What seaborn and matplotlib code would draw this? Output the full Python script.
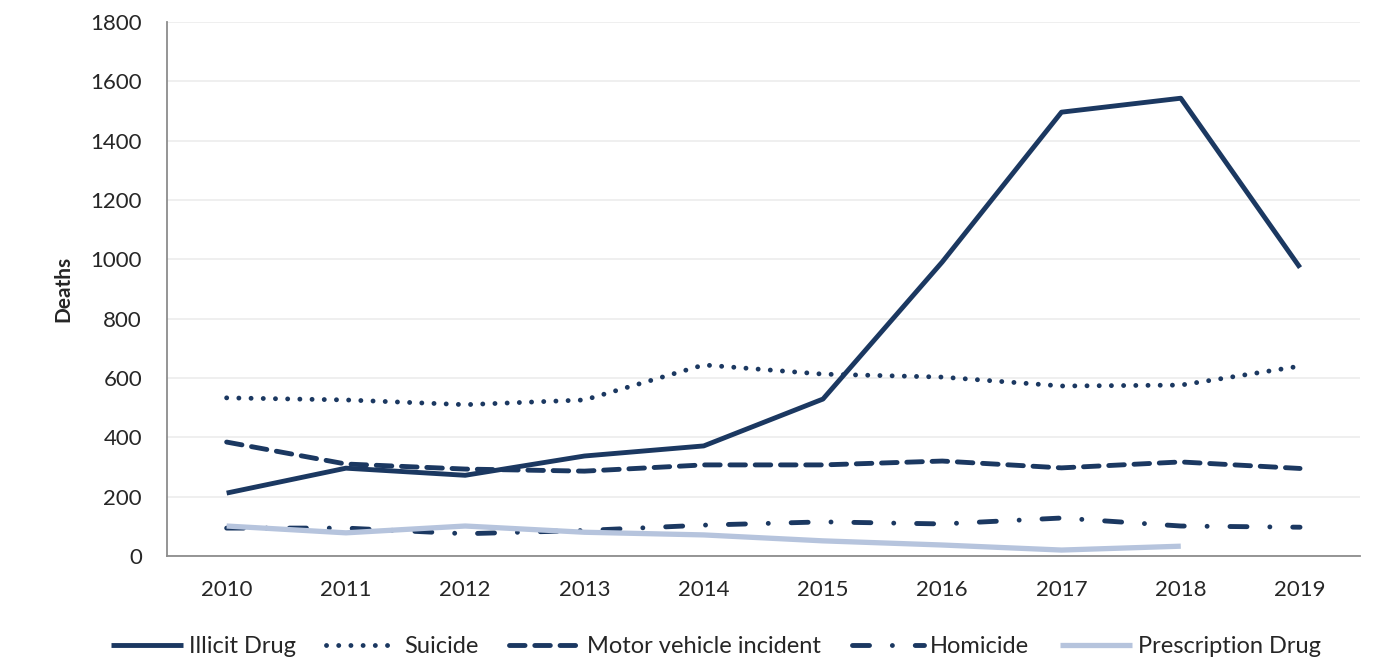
import numpy as np
import pandas as pd
import matplotlib
matplotlib.use("Agg")
import matplotlib.pyplot as plt
import seaborn as sns

# ------- data -------
years = [2010, 2011, 2012, 2013, 2014, 2015, 2016, 2017, 2018, 2019]
illicit      = [212, 296, 272, 337, 371, 529, 991, 1496, 1543, 972]
suicide      = [533, 526, 510, 526, 644, 613, 603, 573, 576, 640]
motor        = [384, 310, 293, 286, 307, 307, 320, 297, 317, 295]
homicide     = [94, 94, 75, 86, 104, 115, 108, 128, 101, 97]
prescription = [101, 78, 101, 80, 71, 51, 37, 20, 33, np.nan]

y_ticks = [0, 200, 400, 600, 800, 1000, 1200, 1400, 1600, 1800]

navy  = "#1b3861"
light = "#b6c4dd"

# name, values, color, linewidth, dash pattern (in units of lw)
series = [
    ("Illicit Drug",           illicit,      navy,  3.5, "-"),
    ("Suicide",                suicide,      navy,  3.5, (0, (0.01, 2.5))),
    ("Motor vehicle incident", motor,        navy,  3.5, (0, (3.2, 2.0))),
    ("Homicide",               homicide,     navy,  3.5, (0, (3.5, 4.7, 0.01, 4.7))),
    ("Prescription Drug",      prescription, light, 3.8, "-"),
]

sns.set_style("white")
plt.rcParams["font.family"] = ["Lato", "DejaVu Sans"]

fig = plt.figure(figsize=(13.86, 6.6), dpi=100)
ax = fig.add_axes([0.1205, 0.1576, 0.8605, 0.8091])

xpos = np.arange(len(years))
for name, vals, col, lw, ls in series:
    sns.lineplot(x=xpos, y=vals, ax=ax, color=col, linewidth=lw,
                 linestyle=ls, dash_capstyle="round", solid_capstyle="butt",
                 label=name)

# axes styling, excel-like
ax.set_xlim(-0.5, len(years) - 0.5)
ax.set_ylim(0, 1800)
ax.set_yticks(y_ticks)
ax.set_yticklabels([str(v) for v in y_ticks], fontsize=16)
ax.set_xticks(xpos)
ax.set_xticklabels([str(y) for y in years], fontsize=16)
ax.set_xticks(np.arange(-0.5, len(years)), minor=True)
ax.tick_params(axis="x", which="major", length=0, pad=17)
ax.tick_params(axis="x", which="minor", length=7, width=1.3, color="#8c8c8c", direction="out")
ax.tick_params(axis="y", length=6, width=1.3, color="#8c8c8c", direction="out", pad=12)
ax.grid(axis="y", color="#ececec", linewidth=1.2)
ax.set_axisbelow(True)

for s in ["top", "right"]:
    ax.spines[s].set_visible(False)
for s in ["left", "bottom"]:
    ax.spines[s].set_color("#8c8c8c")
    ax.spines[s].set_linewidth(1.3)

ax.set_xlabel("")
ax.set_ylabel("Deaths", fontsize=15, fontweight="bold", labelpad=12)

ax.legend(loc="upper center", bbox_to_anchor=(0.46, -0.11), ncol=5,
          frameon=False, fontsize=17, handlelength=3.05, handletextpad=0.25,
          columnspacing=1.3)

plt.savefig("out.png", dpi=100)
